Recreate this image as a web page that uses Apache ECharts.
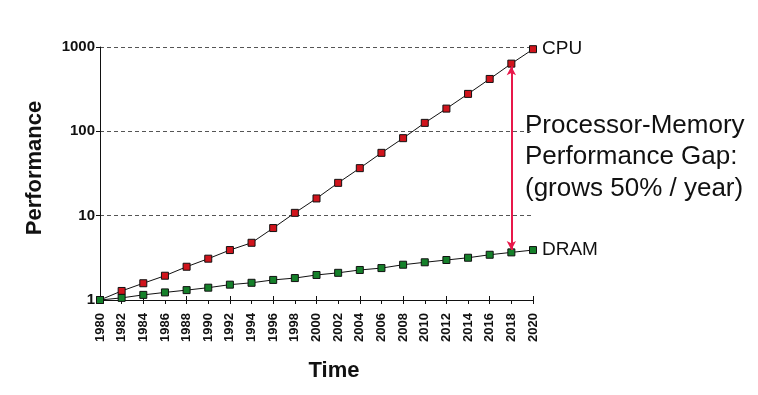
<!DOCTYPE html>
<html>
<head>
<meta charset="utf-8">
<script src="https://cdn.jsdelivr.net/npm/echarts@6/dist/echarts.min.js"></script>
<style>html,body{margin:0;padding:0;background:#fff}#c{width:758px;height:395px}</style>
</head>
<body>
<div id="c"></div>
<script>
const years = ['1980','1982','1984','1986','1988','1990','1992','1994','1996','1998','2000','2002','2004','2006','2008','2010','2012','2014','2016','2018','2020'];
const cpu = [1, 1.28, 1.58, 1.94, 2.48, 3.09, 3.91, 4.77, 7.13, 10.8, 16.0, 24.5, 36.6, 55.6, 83, 126, 186, 278, 418, 635, 942];
const dram = [1, 1.06, 1.15, 1.23, 1.31, 1.40, 1.52, 1.60, 1.73, 1.82, 1.98, 2.10, 2.27, 2.39, 2.62, 2.80, 2.98, 3.17, 3.44, 3.67, 3.91];
const yTicks = [1, 10, 100, 1000];
const gapYear = '2018';
const gapText = ['Processor-Memory', 'Performance Gap:', '(grows 50% / year)'];

const FONT = 'Liberation Sans, Arial, Helvetica, sans-serif';
const chart = echarts.init(document.getElementById('c'), null, {renderer: 'canvas'});
const gi = years.indexOf(gapYear);

function mkSeries(name, data, color) {
  return {
    name: name, type: 'line', data: data,
    symbol: 'rect', symbolSize: 7,
    lineStyle: {color: '#111', width: 1},
    itemStyle: {color: color, borderColor: '#111', borderWidth: 1},
    endLabel: {show: true, formatter: name, fontFamily: FONT, fontSize: 19, color: '#111', distance: 9},
    z: 3
  };
}

const s1 = mkSeries('CPU', cpu, '#d0141c');
const s2 = mkSeries('DRAM', dram, '#15802a');
s1.markLine = {
  silent: true, symbol: ['arrow', 'arrow'], symbolSize: [7, 9],
  lineStyle: {color: '#e8184a', width: 2, type: 'solid'},
  label: {show: false},
  data: [[{coord: [gapYear, cpu[gi] * 0.93]}, {coord: [gapYear, dram[gi] * 1.07]}]]
};

chart.setOption({
  animation: false,
  textStyle: {fontFamily: FONT},
  grid: {left: 100, right: 225, top: 47, bottom: 95, containLabel: false},
  xAxis: [{
    type: 'category', data: years, boundaryGap: false,
    axisLine: {lineStyle: {color: '#111', width: 1}},
    axisTick: {show: true, length: 4, lineStyle: {color: '#111'}, alignWithLabel: true},
    axisLabel: {rotate: 90, interval: 0, fontFamily: FONT, fontSize: 13, fontWeight: 'bold', color: '#111', margin: 13},
    splitLine: {show: false}
  }, {
    type: 'category', data: years, boundaryGap: false, position: 'bottom',
    axisLine: {show: false},
    axisTick: {show: true, inside: true, length: 4, lineStyle: {color: '#111'}},
    axisLabel: {show: false}, splitLine: {show: false}
  }],
  yAxis: {
    type: 'log', logBase: 10, min: 1, max: 1000,
    axisLine: {show: true, lineStyle: {color: '#111', width: 1}},
    axisTick: {show: true, length: 4, lineStyle: {color: '#111'}},
    axisLabel: {fontFamily: FONT, fontSize: 15, fontWeight: 'bold', color: '#111', margin: 5,
      formatter: v => yTicks.includes(Math.round(v)) ? String(Math.round(v)) : ''},
    splitLine: {show: true, lineStyle: {color: '#555', type: [4, 3], width: 1}}
  },
  series: [s1, s2],
  graphic: [{
    type: 'text', left: 525, top: 110,
    style: {text: gapText.join('\n'), font: '26px ' + FONT, fill: '#111', lineHeight: 31.5}
  }, {
    type: 'text', x: 334, y: 371,
    style: {text: 'Time', font: 'bold 22px ' + FONT, fill: '#111', align: 'center', verticalAlign: 'middle'}
  }, {
    type: 'text', x: 35, y: 168, rotation: Math.PI / 2,
    style: {text: 'Performance', font: 'bold 22px ' + FONT, fill: '#111', align: 'center', verticalAlign: 'middle'}
  }]
});
</script>
</body>
</html>
